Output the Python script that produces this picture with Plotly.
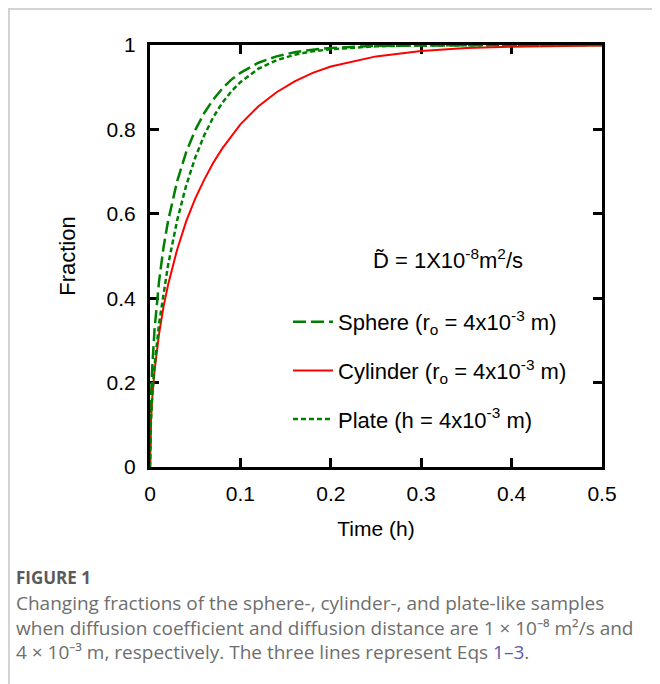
import plotly.graph_objects as go

time_h = [0, 0.0005, 0.001, 0.0025, 0.005, 0.01, 0.015, 0.02, 0.03, 0.04, 0.05, 0.06, 0.07,
          0.08, 0.09, 0.10, 0.12, 0.14, 0.16, 0.18, 0.20, 0.25, 0.30, 0.35, 0.40, 0.45, 0.50]
sphere = [0, 0.110, 0.154, 0.237, 0.325, 0.440, 0.521, 0.583, 0.677, 0.746, 0.798, 0.839, 0.871,
          0.897, 0.918, 0.934, 0.958, 0.973, 0.983, 0.989, 0.993, 0.998, 0.999, 1.0, 1.0, 1.0, 1.0]
cylinder = [0, 0.075, 0.105, 0.164, 0.228, 0.315, 0.380, 0.432, 0.515, 0.582, 0.636, 0.681, 0.721,
            0.755, 0.785, 0.812, 0.855, 0.888, 0.914, 0.934, 0.949, 0.973, 0.986, 0.993, 0.996, 0.998, 0.999]
plate = [0, 0.076, 0.107, 0.169, 0.239, 0.339, 0.415, 0.479, 0.584, 0.667, 0.733, 0.786, 0.829,
         0.863, 0.890, 0.912, 0.944, 0.964, 0.977, 0.985, 0.990, 0.997, 0.999, 1.0, 1.0, 1.0, 1.0]

x_ticks = [0, 0.1, 0.2, 0.3, 0.4, 0.5]
x_ticktext = ["0", "0.1", "0.2", "0.3", "0.4", "0.5"]
y_ticks = [0, 0.2, 0.4, 0.6, 0.8, 1.0]
y_ticktext = ["0", "0.2", "0.4", "0.6", "0.8", "1"]

names = ["Sphere (r<sub>o</sub> = 4x10<sup>-3</sup> m)",
         "Cylinder (r<sub>o</sub> = 4x10<sup>-3</sup> m)",
         "Plate (h = 4x10<sup>-3</sup> m)"]

caption_lines = [
    "Changing fractions of the sphere-, cylinder-, and plate-like samples",
    "when diffusion coefficient and diffusion distance are 1 \u00d7 10\u207b\u2078 m\u00b2/s and",
    "4 \u00d7 10\u207b\u00b3 m, respectively. The three lines represent Eqs "
    "<span style='color:#5a5ab0'>1\u20133</span>.",
]

FONT = "Liberation Sans, Arial, sans-serif"
CAPFONT = "Open Sans"
GREEN = "#008000"
RED = "#ff0000"

OFF = 8  # page body margin
W, H = 652, 676
L, T = 142, 37
PW, PH = 452, 422
R, B = W - L - PW, H - T - PH


def px(xs):
    return (xs - OFF - L) / PW


def py(ys):
    return (H - B - (ys - OFF)) / PH


fig = go.Figure()
fig.add_trace(go.Scatter(x=time_h, y=sphere, mode="lines", name=names[0], legendgroup="a",
                         line=dict(color=GREEN, width=2.5, dash="13px,5px")))
fig.add_trace(go.Scatter(x=time_h, y=cylinder, mode="lines", name=names[1], legendgroup="b",
                         line=dict(color=RED, width=2)))
fig.add_trace(go.Scatter(x=time_h, y=plate, mode="lines", name=names[2], legendgroup="c",
                         line=dict(color=GREEN, width=2.5, dash="5px,3px")))

axis_common = dict(showline=True, linecolor="black", linewidth=3, mirror="allticks",
                   ticks="inside", ticklen=9, tickwidth=3, tickcolor="black",
                   showgrid=False, zeroline=False, layer="below traces",
                   tickfont=dict(family=FONT, size=21, color="black"))

fig.update_xaxes(range=[0, 0.5], tickvals=x_ticks, ticktext=x_ticktext, ticklabelstandoff=6,
                 title=dict(text="Time (h)", font=dict(family=FONT, size=21, color="black"), standoff=18),
                 **axis_common)
fig.update_yaxes(range=[0, 1], tickvals=y_ticks, ticktext=y_ticktext, ticklabelstandoff=7,
                 title=dict(text="Fraction", font=dict(family=FONT, size=22, color="black"), standoff=25),
                 **axis_common)

cap_color = "#6e6e6e"
annotations = [
    dict(text="D\u0303 = 1X10<sup>-8</sup>m<sup>2</sup>/s", x=px(448), y=py(259), xref="paper", yref="paper",
         showarrow=False, xanchor="center", yanchor="middle", font=dict(family=FONT, size=22, color="black")),
    dict(text="<b>FIGURE 1</b>", x=px(14), y=py(577), xref="paper", yref="paper", showarrow=False,
         xanchor="left", yanchor="middle", font=dict(family=CAPFONT, size=17, color="#5a5a5a")),
    dict(text="<br>".join(caption_lines), x=px(14), y=py(627), xref="paper", yref="paper",
         showarrow=False, xanchor="left", yanchor="middle", align="left",
         font=dict(family=CAPFONT, size=19, color=cap_color)),
]

shapes = [
    dict(type="rect", xref="paper", yref="paper", x0=px(OFF + 1), x1=px(720), y0=py(740), y1=py(OFF + 1),
         line=dict(color="#d4d4d4", width=2), fillcolor="rgba(0,0,0,0)", layer="below"),
]

fig.update_layout(
    width=W, height=H, margin=dict(l=L, r=R, t=T, b=B),
    paper_bgcolor="white", plot_bgcolor="white",
    font=dict(family=FONT, size=21, color="black"),
    showlegend=True,
    legend=dict(x=px(288), y=py(301), xanchor="left", yanchor="top", bgcolor="rgba(0,0,0,0)",
                font=dict(family=FONT, size=22, color="black"), tracegroupgap=17,
                traceorder="grouped", itemwidth=40),
    annotations=annotations, shapes=shapes,
)

fig.write_html("out.html")
